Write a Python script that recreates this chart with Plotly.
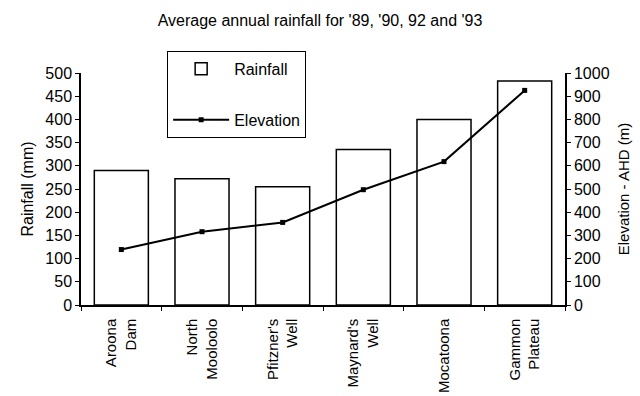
import plotly.graph_objects as go

sites = ["Aroona<br>Dam", "North<br>Mooloolo", "Pfitzner's<br>Well", "Maynard's<br>Well", "Mocatoona", "Gammon<br>Plateau"]
rainfall = [290, 272, 255, 335, 400, 483]
elevation = [239, 316, 356, 497, 618, 925]

FONT = "Liberation Sans, Arial, Helvetica, sans-serif"

fig = go.Figure()
fig.add_trace(go.Bar(
    x=sites, y=rainfall, name="Rainfall", width=0.67,
    marker=dict(color="white", line=dict(color="black", width=1.5)),
    legendgroup="a", yaxis="y",
))
fig.add_trace(go.Scatter(
    x=sites, y=elevation, name="Elevation", mode="lines+markers",
    line=dict(color="black", width=2),
    marker=dict(symbol="square", size=5, color="black"),
    legendgroup="b", yaxis="y2",
))

fig.update_layout(
    width=640, height=396,
    margin=dict(l=81, r=75, t=73, b=91),
    paper_bgcolor="white", plot_bgcolor="white",
    font=dict(family=FONT, size=15, color="black"),
    title=dict(text="Average annual rainfall for '89, '90, 92 and '93",
               x=0.5, xanchor="center", y=0.948, yanchor="middle",
               font=dict(size=16)),
    showlegend=True,
    legend=dict(x=0.178, y=1.095, xanchor="left", yanchor="top",
                bordercolor="black", borderwidth=1, bgcolor="white",
                itemwidth=56, tracegroupgap=27, traceorder="grouped",
                font=dict(size=16)),
    xaxis=dict(type="category", range=[-0.5, 5.5], showline=True,
               linecolor="black", linewidth=1.5, ticks="outside",
               tickson="boundaries", ticklen=4, tickcolor="black",
               tickangle=-90, showgrid=False, tickfont=dict(size=15),
               ticklabelstandoff=6, automargin=False),
    yaxis=dict(range=[0, 500], dtick=50, showline=True, linecolor="black",
               linewidth=1.5, ticks="outside", ticklen=4, tickcolor="black",
               showgrid=False, zeroline=False, tickfont=dict(size=16),
               automargin=False,
               title=dict(text="Rainfall (mm)", standoff=8, font=dict(size=16))),
    yaxis2=dict(range=[0, 1000], dtick=100, overlaying="y", side="right",
                showline=True, linecolor="black", linewidth=1.5,
                ticks="outside", ticklen=4, tickcolor="black",
                showgrid=False, zeroline=False, tickfont=dict(size=16),
                automargin=False,
                title=dict(text="Elevation - AHD (m)", standoff=10, font=dict(size=15))),
)

fig.write_html("out.html")
